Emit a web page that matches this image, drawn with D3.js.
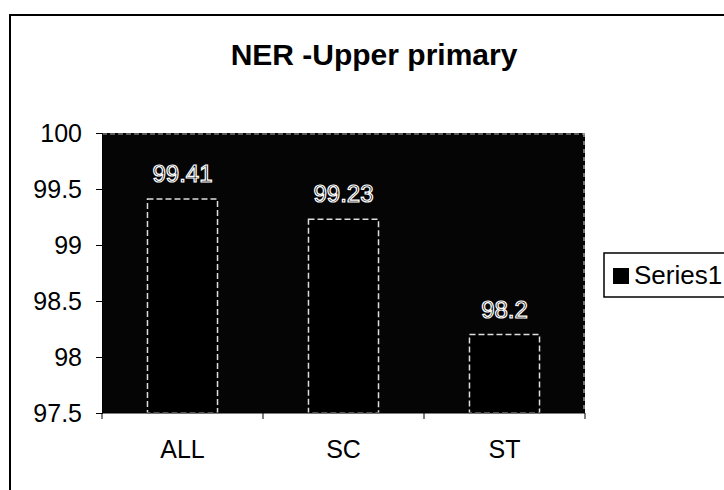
<!DOCTYPE html>
<html><head><meta charset="utf-8">
<script src="https://cdn.jsdelivr.net/npm/d3@7"></script>
<style>html,body{margin:0;padding:0;background:#fff;}svg{display:block;}</style>
</head><body>
<script>
const categories = ["ALL", "SC", "ST"];
const values = [99.41, 99.23, 98.2];
const yTicks = [97.5, 98, 98.5, 99, 99.5, 100];
const title = "NER -Upper primary";
const seriesName = "Series1";

const W = 724, H = 490;
const font = "'Liberation Sans', Arial, Helvetica, sans-serif";
const svg = d3.select("body").append("svg").attr("width", W).attr("height", H);

// outer chart frame
svg.append("rect").attr("x", 10).attr("y", 15).attr("width", W + 10).attr("height", H + 10)
  .attr("fill", "#fff").attr("stroke", "#000").attr("stroke-width", 2);

// title
svg.append("text").attr("x", 374).attr("y", 65).attr("text-anchor", "middle")
  .attr("font-family", font).attr("font-weight", "bold").attr("font-size", 30)
  .text(title);

const plot = {left: 102, right: 585, top: 133, bottom: 413};
const x = d3.scaleBand().domain(categories).range([plot.left, plot.right])
  .paddingInner(0.565).paddingOuter(0.2825);
const y = d3.scaleLinear().domain([97.5, 100]).range([plot.bottom, plot.top]);

// plot background
svg.append("rect").attr("x", plot.left).attr("y", plot.top)
  .attr("width", plot.right - plot.left).attr("height", plot.bottom - plot.top)
  .attr("fill", "#050505");
// faint top/right edge
svg.append("line").attr("x1", plot.left).attr("x2", plot.right).attr("y1", plot.top + 1).attr("y2", plot.top + 1)
  .attr("stroke", "#777").attr("stroke-width", 1.5).attr("stroke-dasharray", "5,3");
svg.append("line").attr("x1", plot.right - 1).attr("x2", plot.right - 1).attr("y1", plot.top).attr("y2", plot.bottom)
  .attr("stroke", "#bbb").attr("stroke-width", 1.2).attr("stroke-dasharray", "4,4");

// bars
svg.selectAll("rect.bar").data(values).join("rect").attr("class", "bar")
  .attr("x", (d, i) => x(categories[i])).attr("width", x.bandwidth())
  .attr("y", d => y(d)).attr("height", d => plot.bottom - y(d))
  .attr("fill", "#000").attr("stroke", "#ddd").attr("stroke-width", 1.5)
  .attr("stroke-dasharray", "6,3");

// data labels (outlined)
svg.selectAll("text.lbl").data(values).join("text").attr("class", "lbl")
  .attr("x", (d, i) => x(categories[i]) + x.bandwidth() / 2)
  .attr("y", d => y(d) - 17)
  .attr("text-anchor", "middle").attr("font-family", font).attr("font-size", 24)
  .attr("fill", "#000").attr("stroke", "#fff").attr("stroke-width", 1.2)
  .text(d => d);

// y axis
const yAxis = d3.axisLeft(y).tickValues(yTicks).tickSize(6).tickPadding(14)
  .tickFormat(d => String(d));
const gy = svg.append("g").attr("transform", `translate(${plot.left},0)`).call(yAxis);
gy.select(".domain").attr("stroke", "#000").attr("stroke-width", 1);
gy.selectAll(".tick line").attr("stroke", "#000");
gy.selectAll("text").attr("font-family", font).attr("font-size", 25).attr("fill", "#000");

// x axis: ticks at category boundaries
const gx = svg.append("g").attr("transform", `translate(0,${plot.bottom})`);
gx.append("line").attr("x1", plot.left).attr("x2", plot.right).attr("stroke", "#000");
const bounds = categories.map(c => x(c) - x.step() * x.paddingInner() / 2);
bounds.push(plot.right);
gx.selectAll("line.tk").data(bounds).join("line").attr("class", "tk")
  .attr("x1", d => d).attr("x2", d => d).attr("y1", 0).attr("y2", 6).attr("stroke", "#000");
gx.selectAll("text").data(categories).join("text")
  .attr("x", d => x(d) + x.bandwidth() / 2).attr("y", 45)
  .attr("text-anchor", "middle").attr("font-family", font).attr("font-size", 25)
  .text(d => d);

// legend
const lg = svg.append("g");
lg.append("rect").attr("x", 604).attr("y", 253).attr("width", 140).attr("height", 44)
  .attr("fill", "#fff").attr("stroke", "#000").attr("stroke-width", 1.5);
lg.append("rect").attr("x", 613).attr("y", 268).attr("width", 16).attr("height", 16).attr("fill", "#000");
lg.append("text").attr("x", 634).attr("y", 284).attr("font-family", font).attr("font-size", 26)
  .text(seriesName);
</script>
</body></html>
